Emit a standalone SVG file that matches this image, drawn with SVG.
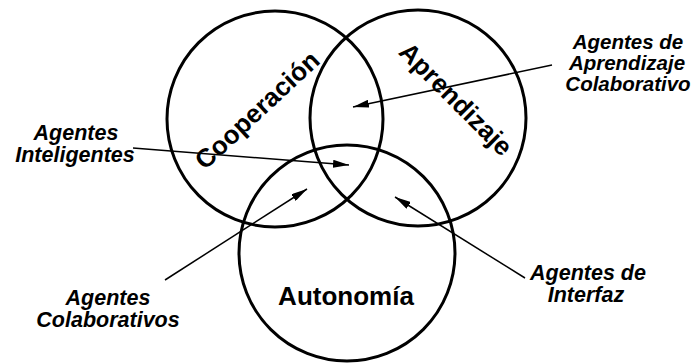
<svg xmlns="http://www.w3.org/2000/svg" width="699" height="364" viewBox="0 0 699 364">
  <style>
    .set { fill: none; stroke: #000; stroke-width: 3; }
    .title { font-family: "Liberation Sans", Arial, sans-serif; font-weight: bold; font-size: 26px; fill: #000; text-anchor: middle; }
    .label { font-family: "Liberation Sans", Arial, sans-serif; font-weight: bold; font-style: italic; font-size: 21.5px; fill: #000; text-anchor: middle; }
    .tight { font-size: 20.5px; }
    .link { stroke: #000; stroke-width: 1.5; fill: none; marker-end: url(#head); }
  </style>
  <defs>
    <marker id="head" viewBox="0 0 16 8" refX="16" refY="4" markerWidth="16" markerHeight="8" markerUnits="userSpaceOnUse" orient="auto">
      <path d="M0,0 L16,4 L0,8 Z" fill="#000"/>
    </marker>
  </defs>
  <rect width="699" height="364" fill="#fff"/>

  <!-- the three overlapping sets -->
  <g id="cooperacion">
    <circle class="set" cx="275" cy="119" r="108"/>
    <text class="title" transform="translate(257,110) rotate(-43)" x="0" y="9">Cooperación</text>
  </g>

  <g id="aprendizaje">
    <circle class="set" cx="418" cy="118" r="108"/>
    <text class="title" transform="translate(456,99) rotate(45)" x="0" y="9">Aprendizaje</text>
  </g>

  <g id="autonomia">
    <circle class="set" cx="347" cy="253" r="108"/>
    <text class="title" x="346" y="305">Autonomía</text>
  </g>

  <!-- agent type labels -->
  <g id="agentes-inteligentes">
    <text class="label" x="76" y="140">Agentes</text>
    <text class="label" x="75" y="162">Inteligentes</text>
  </g>

  <g id="agentes-aprendizaje-colaborativo">
    <text class="label tight" x="628" y="49">Agentes de</text>
    <text class="label tight" x="627" y="70">Aprendizaje</text>
    <text class="label tight" x="628" y="91">Colaborativo</text>
  </g>

  <g id="agentes-colaborativos">
    <text class="label" x="108" y="305">Agentes</text>
    <text class="label" x="108" y="327">Colaborativos</text>
  </g>

  <g id="agentes-interfaz">
    <text class="label" x="588" y="280">Agentes de</text>
    <text class="label" x="586" y="302">Interfaz</text>
  </g>

  <!-- pointers from labels into the intersections -->
  <g id="connectors">
    <line class="link" x1="133" y1="148" x2="349" y2="165"/>
    <line class="link" x1="552" y1="65" x2="353" y2="107"/>
    <line class="link" x1="165" y1="280" x2="307" y2="189"/>
    <line class="link" x1="525" y1="278" x2="395" y2="197"/>
  </g>
</svg>
